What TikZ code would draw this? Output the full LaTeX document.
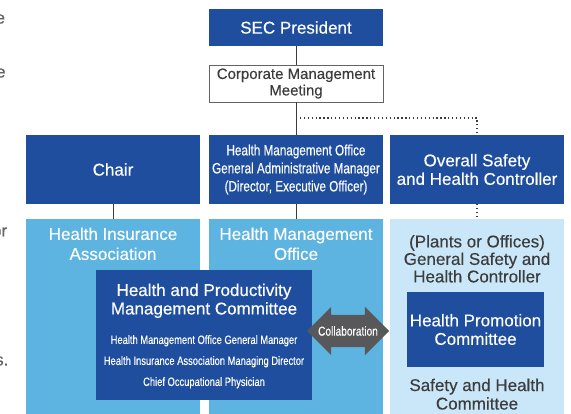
\documentclass[tikz,border=0pt]{standalone}
\usepackage{fontspec}
\setmainfont{Liberation Sans}[FakeBold=0.3]
\newfontfamily\narrowfont[FakeStretch=0.78,FakeBold=0.3]{Liberation Sans}
\usepackage{xcolor}
\usetikzlibrary{positioning,shapes.arrows}
\definecolor{secblue}{HTML}{1F4E9F}
\definecolor{midblue}{HTML}{5DB4E0}
\definecolor{paleblue}{HTML}{C9E7F8}
\definecolor{inkgray}{HTML}{3C3C3C}
\definecolor{arrowgray}{HTML}{58585A}

\begin{document}
\begin{tikzpicture}[
    x=1pt, y=-1pt,
    big/.style={font=\fontsize{17}{18.5}\selectfont},
    head/.style={big, fill=secblue, text=white, align=center, minimum width=174pt, inner sep=0pt},
    area/.style={minimum width=174pt, minimum height=195pt, inner sep=0pt},
    areatitle/.style={big, align=center, inner sep=0pt},
    link/.style={draw=inkgray, line width=0.9pt},
    dots/.style={draw=inkgray, line width=1.4pt, dash pattern=on 1.3pt off 2.6pt}
  ]
    \useasboundingbox (0,0) rectangle (571,414);

    % cut-off text of the neighbouring column
    \foreach \y/\t in {19/e, 73/e, 232/or, 361/s.}
      \node[big, text=inkgray!80, anchor=east, inner sep=0pt] at (5+\y/100,\y) {\t};

    % top of the chain
    \node[head, minimum height=37pt] (pres) at (296,27.5) {SEC President};
    \node[big, draw=inkgray!80, fill=white, text=inkgray, align=center, minimum width=174pt,
          minimum height=37pt, inner sep=0pt, line width=0.8pt,
          font=\fontsize{15}{16.5}\selectfont] (cmm) at (296,83.5) {Corporate Management\\Meeting};

    % second row
    \node[head, minimum height=69pt] (chair) at (113,169.5) {Chair};
    \node[head, minimum height=69pt, font=\narrowfont\fontsize{15}{18}\selectfont] (hmgam) at (296,169.5)
      {Health Management Office\\General Administrative Manager\\(Director, Executive Officer)};
    \node[head, minimum height=69pt] (oshc) at (477,169.5) {Overall Safety\\and Health Controller};

    % organisations
    \node[area, fill=midblue] (hia) at (113,316.5) {};
    \node[area, fill=midblue] (hmo) at (296,316.5) {};
    \node[area, fill=paleblue] (shc) at (477,316.5) {};

    \node[areatitle, text=white, font=\fontsize{17}{20}\selectfont] (hiatext) at ([yshift=-25pt]hia.north)
      {Health Insurance\\Association};
    \node[areatitle, text=white, font=\fontsize{17}{20}\selectfont] (hmotext) at ([yshift=-25pt]hmo.north)
      {Health Management\\Office};
    \node[areatitle, text=inkgray, font=\fontsize{17}{17.5}\selectfont] (shctext) at ([yshift=-40pt]shc.north)
      {(Plants or Offices)\\General Safety and\\Health Controller};
    \node[areatitle, text=inkgray] (shcbottom) at ([yshift=20pt]shc.south)
      {Safety and Health\\Committee};

    % committees
    \node[fill=secblue, minimum width=216pt, minimum height=130pt, inner sep=0pt] (hpmc) at (204,335) {};
    \node[areatitle, text=white] (hpmctitle) at ([yshift=-31pt]hpmc.north)
      {Health and Productivity\\Management Committee};
    \node[text=white, align=center, inner sep=0pt, font=\narrowfont\fontsize{12}{21}\selectfont]
      (members) at ([yshift=-92pt]hpmc.north)
      {Health Management Office General Manager\\Health Insurance Association Managing Director\\Chief Occupational Physician};

    \node[head, minimum width=137pt, minimum height=75pt] (hpc) at (475.5,329.5)
      {Health Promotion\\Committee};

    \node[double arrow, fill=arrowgray, minimum height=82pt, minimum width=48pt,
          double arrow head extend=8pt, inner xsep=0pt, inner ysep=16pt] (collab) at (348,331) {};
    \node[text=white, inner sep=0pt, font=\narrowfont\fontsize{13}{14}\selectfont] (collabtext) at (collab)
      {Collaboration};

    % connectors
    \coordinate (dotcorner) at (477,118);
    \draw[link] (pres) -- (cmm);
    \draw[link] (cmm) -- (hmgam);
    \draw[link] (hmgam) -- (hmo);
    \draw[link] (chair) -- (hia);
    \draw[dots] (cmm.south |- dotcorner) -- (dotcorner) -- (oshc.north);
    \draw[dots] (oshc) -- (shc);
  \end{tikzpicture}
\end{document}
